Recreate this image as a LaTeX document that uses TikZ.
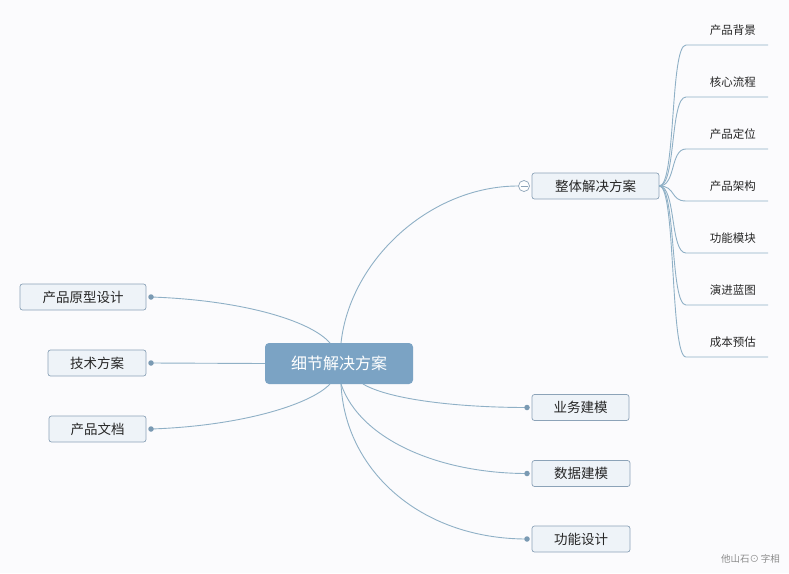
\documentclass[tikz,border=0pt]{standalone}
\usepackage{fontspec}
\setmainfont{Noto Sans CJK SC}
\begin{document}
\begin{tikzpicture}[x=1pt,y=-1pt,
  conn/.style={draw=lineblue, line width=0.9pt},
  topic/.style={draw=boxborder, fill=boxfill, rounded corners=2.5pt, line width=0.7pt, minimum height=26pt, inner sep=0pt, font=\fontsize{13.5}{14}\selectfont, text=black!85},
  leaf/.style={anchor=east, inner sep=0pt, font=\fontsize{11.5}{12}\selectfont, text=black!85},
  dotc/.style={circle, fill=dotblue, inner sep=0pt, minimum size=5.5pt}]
\definecolor{lineblue}{HTML}{8FB0C6}
\definecolor{boxborder}{HTML}{8CA3B8}
\definecolor{boxfill}{HTML}{EEF3F8}
\definecolor{dotblue}{HTML}{7A9AB3}
\definecolor{centerfill}{HTML}{7BA3C4}
\definecolor{bgc}{HTML}{FBFBFD}
\useasboundingbox (0,0) rectangle (789,573);
\fill[bgc] (0,0) rectangle (789,573);
% center
\node[fill=centerfill, rounded corners=4pt, minimum width=148pt, minimum height=41pt, inner sep=0pt, text=white, font=\fontsize{16}{17}\selectfont] (c) at (339,363.5) {细节解决方案};
% main right top
\node[topic, minimum width=127pt] (z) at (595.5,186) {整体解决方案};
\node[circle, draw=boxborder, fill=white, inner sep=0pt, minimum size=11pt, line width=0.7pt] (zc) at (524,186) {};
\draw[boxborder, line width=0.7pt] (520.5,186) -- (527.5,186);
% left
\node[topic, minimum width=126pt] (l1) at (83,297) {产品原型设计};
\node[topic, minimum width=98pt] (l2) at (97,363) {技术方案};
\node[topic, minimum width=97pt] (l3) at (97.5,429) {产品文档};
% right bottom
\node[topic, minimum width=97pt] (r1) at (580.5,407.5) {业务建模};
\node[topic, minimum width=98pt] (r2) at (581,473.5) {数据建模};
\node[topic, minimum width=98pt] (r3) at (581,539) {功能设计};
% connectors
\coordinate (ct) at (341,343);
\coordinate (cb) at (341,384);
\coordinate (d1) at (151,297);
\coordinate (d2) at (151,363);
\coordinate (d3) at (151,429);
\coordinate (e1) at (527,407.5);
\coordinate (e2) at (527,473.5);
\coordinate (e3) at (527,539);
\draw[conn] (ct) .. controls (350,260) and (430,186) .. (zc.west);
\draw[conn] (d1) .. controls (240,300) and (310,320) .. (330,343);
\draw[conn] (d2) -- (c.west);
\draw[conn] (d3) .. controls (240,426) and (310,405) .. (330,384);
\draw[conn] (363,384) .. controls (390,400) and (460,407.5) .. (e1);
\draw[conn] (cb) .. controls (360,440) and (440,473.5) .. (e2);
\draw[conn] (cb) .. controls (345,470) and (420,539) .. (e3);
\foreach \p in {d1,d2,d3,e1,e2,e3}{\node[dotc] at (\p) {};}
% leaves
\foreach \t [count=\i] in {产品背景,核心流程,产品定位,产品架构,功能模块,演进蓝图,成本预估}{
  \pgfmathsetmacro{\ly}{45+52*(\i-1)}
  \node[leaf] (leaf\i) at (756,\ly-15) {\t};
  \coordinate (u\i) at (686,\ly);
  \coordinate (ue\i) at (768,\ly);
  \draw[conn] (z.east) .. controls (676,186) and (670,\ly) .. (u\i) -- (ue\i);
}
\node[anchor=east, inner sep=0pt, text=black!45, font=\fontsize{9.5}{10}\selectfont] (wm) at (780,559) {他山石⊙\,字相};
\end{tikzpicture}
\end{document}
